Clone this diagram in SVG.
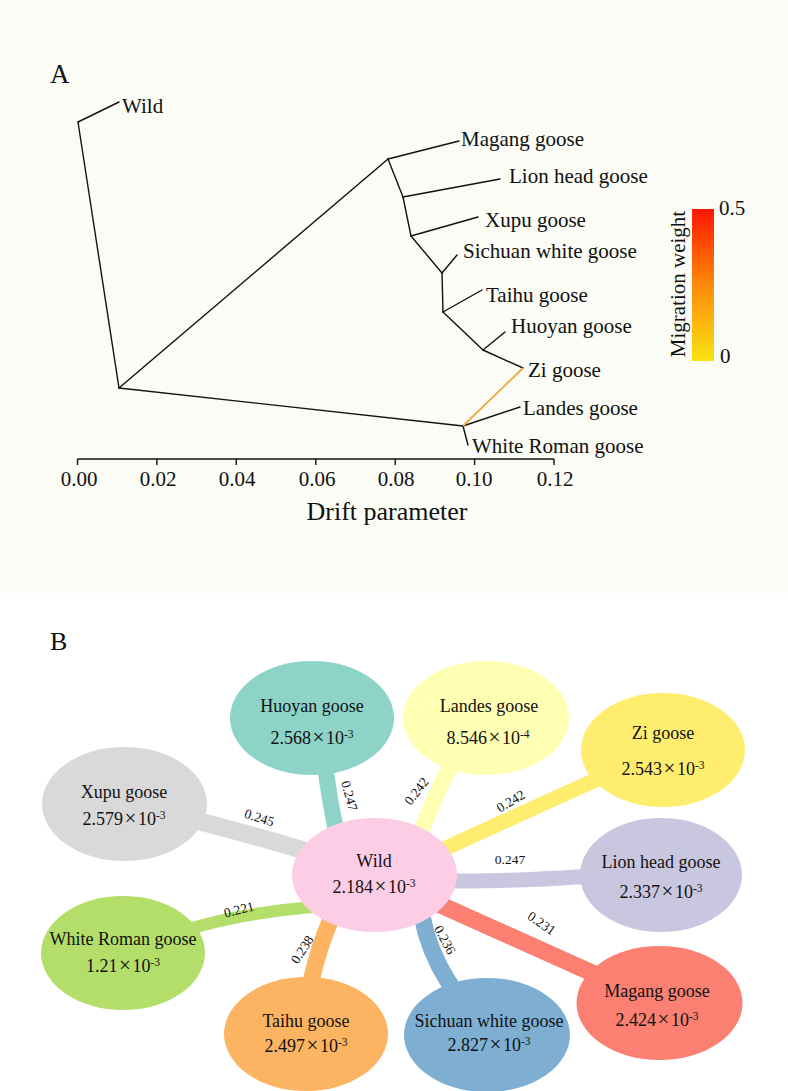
<svg xmlns="http://www.w3.org/2000/svg" width="788" height="1091" viewBox="0 0 788 1091">
<defs>
<linearGradient id="mw" x1="0" y1="1" x2="0" y2="0">
<stop offset="0" stop-color="#f9e312"/>
<stop offset="0.5" stop-color="#fd8a08"/>
<stop offset="1" stop-color="#ff1505"/>
</linearGradient>
<style>
text{font-family:"Liberation Serif","Times New Roman",serif;fill:#111}
.tl{font-size:21px}
.ax{font-size:21px;text-anchor:middle}
.br{stroke:#111;stroke-width:1.4;fill:none;stroke-linecap:round}
.nt{font-size:18px;text-anchor:middle}
.bl{font-size:13.5px;text-anchor:middle}
.band{fill:none;stroke-linecap:butt}
.sup{font-size:11.5px}
.x{font-size:21px}
</style>
</defs>
<rect x="0" y="0" width="788" height="593" fill="#fafcf5"/>
<rect x="0" y="593" width="788" height="498" fill="#ffffff"/>

<!-- Panel A -->
<text x="50" y="83" style="font-size:27px">A</text>
<g id="tree-edges">
<line class="br" x1="78" y1="122" x2="119" y2="102"/>
<line class="br" x1="78" y1="122" x2="119" y2="388"/>
<line class="br" x1="119" y1="388" x2="388" y2="159"/>
<line class="br" x1="119" y1="388" x2="463" y2="426"/>
<line class="br" x1="388" y1="159" x2="459" y2="141"/>
<line class="br" x1="388" y1="159" x2="403" y2="197"/>
<line class="br" x1="403" y1="197" x2="500" y2="179"/>
<line class="br" x1="403" y1="197" x2="411" y2="236"/>
<line class="br" x1="411" y1="236" x2="478" y2="217"/>
<line class="br" x1="411" y1="236" x2="442" y2="273"/>
<line class="br" x1="442" y1="273" x2="457" y2="255"/>
<line class="br" x1="442" y1="273" x2="443" y2="312"/>
<line class="br" x1="443" y1="312" x2="482" y2="290"/>
<line class="br" x1="443" y1="312" x2="483" y2="350"/>
<line class="br" x1="483" y1="350" x2="505" y2="332"/>
<line class="br" x1="483" y1="350" x2="523" y2="368"/>
<line class="br" x1="463" y1="426" x2="520" y2="407"/>
<line class="br" x1="463" y1="426" x2="468" y2="445"/>
<line x1="523" y1="368" x2="463" y2="426" stroke="#f2a93b" stroke-width="1.8"/>
</g>
<g id="leaf-wild"><text class="tl" x="122" y="113">Wild</text></g>
<g id="leaf-magang"><text class="tl" x="461" y="146">Magang goose</text></g>
<g id="leaf-lionhead"><text class="tl" x="509" y="183">Lion head goose</text></g>
<g id="leaf-xupu"><text class="tl" x="485" y="227">Xupu goose</text></g>
<g id="leaf-sichuan"><text class="tl" x="463" y="258">Sichuan white goose</text></g>
<g id="leaf-taihu"><text class="tl" x="486" y="302">Taihu goose</text></g>
<g id="leaf-huoyan"><text class="tl" x="511" y="333">Huoyan goose</text></g>
<g id="leaf-zi"><text class="tl" x="528" y="377">Zi goose</text></g>
<g id="leaf-landes"><text class="tl" x="523" y="415">Landes goose</text></g>
<g id="leaf-whiteroman"><text class="tl" x="472" y="453">White Roman goose</text></g>

<g id="axis">
<line x1="77.5" y1="459" x2="554" y2="459" stroke="#111" stroke-width="1.4"/>
<g stroke="#111" stroke-width="1.4">
<line x1="77.5" y1="459" x2="77.5" y2="465"/>
<line x1="156.9" y1="459" x2="156.9" y2="465"/>
<line x1="236.3" y1="459" x2="236.3" y2="465"/>
<line x1="315.8" y1="459" x2="315.8" y2="465"/>
<line x1="395.2" y1="459" x2="395.2" y2="465"/>
<line x1="474.6" y1="459" x2="474.6" y2="465"/>
<line x1="554" y1="459" x2="554" y2="465"/>
</g>
<text class="ax" x="79" y="486">0.00</text>
<text class="ax" x="158" y="486">0.02</text>
<text class="ax" x="237" y="486">0.04</text>
<text class="ax" x="317" y="486">0.06</text>
<text class="ax" x="396" y="486">0.08</text>
<text class="ax" x="474" y="486">0.10</text>
<text class="ax" x="555" y="486">0.12</text>
<text x="387" y="520" style="font-size:26px;text-anchor:middle">Drift parameter</text>
</g>

<g id="colorbar">
<rect x="692" y="209" width="22" height="152" fill="url(#mw)"/>
<text x="719" y="215" style="font-size:21px">0.5</text>
<text x="720" y="363" style="font-size:21px">0</text>
<text transform="translate(685,284) rotate(-90)" style="font-size:21px;text-anchor:middle">Migration weight</text>
</g>

<!-- Panel B -->
<text x="50" y="650" style="font-size:26px">B</text>
<g id="bands">
<path class="band" d="M124,804 Q230,826 374,872" stroke="#d9d9d9" stroke-width="18"/>
<path class="band" d="M322,740 Q327,790 338,840" stroke="#8dd3c7" stroke-width="16"/>
<path class="band" d="M470,730 Q440,780 418,840" stroke="#ffffb3" stroke-width="16"/>
<path class="band" d="M663,750 Q550,800 420,860" stroke="#ffed6f" stroke-width="15"/>
<path class="band" d="M420,880 Q520,884 661,870" stroke="#c9c7e0" stroke-width="15"/>
<path class="band" d="M374,875 Q520,940 659,1003" stroke="#fb8072" stroke-width="17"/>
<path class="band" d="M418,880 Q420,955 470,1010" stroke="#7eafd2" stroke-width="17"/>
<path class="band" d="M345,890 Q315,945 306,1010" stroke="#fdb462" stroke-width="17"/>
<path class="band" d="M123,953 Q230,905 370,905" stroke="#b3de69" stroke-width="12"/>
</g>
<g id="band-labels">
<text class="bl" transform="translate(258,822) rotate(18)">0.245</text>
<text class="bl" transform="translate(345,797) rotate(75)">0.247</text>
<text class="bl" transform="translate(420,794) rotate(-52)">0.242</text>
<text class="bl" transform="translate(513,805) rotate(-31)">0.242</text>
<text class="bl" transform="translate(510,864)">0.247</text>
<text class="bl" transform="translate(240,914) rotate(-14)">0.221</text>
<text class="bl" transform="translate(306,952) rotate(-57)">0.238</text>
<text class="bl" transform="translate(441,942) rotate(62)">0.236</text>
<text class="bl" transform="translate(539,927) rotate(35)">0.231</text>
</g>

<g id="node-huoyan">
<ellipse cx="312" cy="718" rx="82" ry="57" fill="#8dd3c7"/>
<text class="nt" x="312" y="712">Huoyan goose</text>
<text class="nt" x="312" y="744">2.568<tspan class="x" dx="1.5">×</tspan><tspan dx="1.5">10</tspan><tspan class="sup" dy="-6">-3</tspan></text>
</g>
<g id="node-landes">
<ellipse cx="486" cy="718" rx="83" ry="57" fill="#ffffb3"/>
<text class="nt" x="489" y="712">Landes goose</text>
<text class="nt" x="488" y="744">8.546<tspan class="x" dx="1.5">×</tspan><tspan dx="1.5">10</tspan><tspan class="sup" dy="-6">-4</tspan></text>
</g>
<g id="node-zi">
<ellipse cx="663" cy="750" rx="82" ry="57" fill="#ffed6f"/>
<text class="nt" x="663" y="739">Zi goose</text>
<text class="nt" x="663" y="775">2.543<tspan class="x" dx="1.5">×</tspan><tspan dx="1.5">10</tspan><tspan class="sup" dy="-6">-3</tspan></text>
</g>
<g id="node-xupu">
<ellipse cx="124.5" cy="804" rx="82.5" ry="57" fill="#d9d9d9"/>
<text class="nt" x="124" y="798">Xupu goose</text>
<text class="nt" x="124" y="825">2.579<tspan class="x" dx="1.5">×</tspan><tspan dx="1.5">10</tspan><tspan class="sup" dy="-6">-3</tspan></text>
</g>
<g id="node-lionhead">
<ellipse cx="661" cy="875" rx="81" ry="57" fill="#c9c7e0"/>
<text class="nt" x="661" y="868">Lion head goose</text>
<text class="nt" x="661" y="898">2.337<tspan class="x" dx="1.5">×</tspan><tspan dx="1.5">10</tspan><tspan class="sup" dy="-6">-3</tspan></text>
</g>
<g id="node-wild">
<ellipse cx="374.5" cy="875" rx="82.5" ry="57" fill="#fccde5"/>
<text class="nt" x="374" y="867">Wild</text>
<text class="nt" x="374" y="893">2.184<tspan class="x" dx="1.5">×</tspan><tspan dx="1.5">10</tspan><tspan class="sup" dy="-6">-3</tspan></text>
</g>
<g id="node-whiteroman">
<ellipse cx="123" cy="953" rx="82" ry="57" fill="#b3de69"/>
<text class="nt" x="123" y="945">White Roman goose</text>
<text class="nt" x="123" y="972">1.21<tspan class="x" dx="1.5">×</tspan><tspan dx="1.5">10</tspan><tspan class="sup" dy="-6">-3</tspan></text>
</g>
<g id="node-magang">
<ellipse cx="659.5" cy="1003" rx="83" ry="57" fill="#fb8072"/>
<text class="nt" x="657" y="997">Magang goose</text>
<text class="nt" x="657" y="1026">2.424<tspan class="x" dx="1.5">×</tspan><tspan dx="1.5">10</tspan><tspan class="sup" dy="-6">-3</tspan></text>
</g>
<g id="node-taihu">
<ellipse cx="306" cy="1034" rx="82" ry="57" fill="#fdb462"/>
<text class="nt" x="306" y="1027">Taihu goose</text>
<text class="nt" x="306" y="1052">2.497<tspan class="x" dx="1.5">×</tspan><tspan dx="1.5">10</tspan><tspan class="sup" dy="-6">-3</tspan></text>
</g>
<g id="node-sichuan">
<ellipse cx="487" cy="1035" rx="83" ry="57" fill="#7eafd2"/>
<text class="nt" x="489" y="1027">Sichuan white goose</text>
<text class="nt" x="489" y="1051">2.827<tspan class="x" dx="1.5">×</tspan><tspan dx="1.5">10</tspan><tspan class="sup" dy="-6">-3</tspan></text>
</g>
</svg>
